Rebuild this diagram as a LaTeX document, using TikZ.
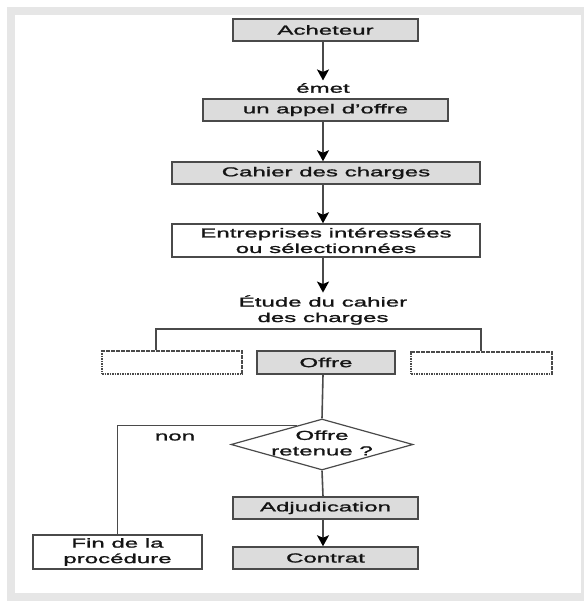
\documentclass[tikz,border=0pt]{standalone}
\usepackage{fontspec}
\setmainfont[FakeStretch=1.85,FakeBold=1.4]{Liberation Sans}
\usetikzlibrary{shapes.geometric,arrows.meta,calc}
\definecolor{boxfill}{HTML}{DCDCDC}
\definecolor{edge}{HTML}{4A4A4A}
\definecolor{framegray}{HTML}{E6E6E6}
\begin{document}
\begin{tikzpicture}[x=1pt,y=-1pt,
  every node/.style={font=\fontsize{13}{15.5}\selectfont, text=black!92},
  greybox/.style={draw=edge, line width=1.5pt, fill=boxfill, inner sep=0pt, align=center},
  whitebox/.style={draw=edge, line width=1.5pt, fill=white, inner sep=0pt, align=center},
  emptybox/.style={draw=edge, line width=1.3pt, dash pattern=on 1.6pt off 0.9pt, fill=white, inner sep=0pt},
  caption/.style={inner sep=2.5pt, align=center},
  link/.style={draw=edge, line width=1.6pt},
  arrowlink/.style={link, -{Stealth[length=11pt,width=12pt,inset=2.5pt,color=black]}}
]
% page with its grey frame
\useasboundingbox (0,0) rectangle (584,601);
\fill[white] (0,0) rectangle (584,601);
\fill[framegray] (7,7) rectangle (584,601);
\fill[white] (15,15) rectangle (581,593);

% main vertical axis
\coordinate (spine) at (323,0);

% upper chain
\node[greybox, minimum width=185, minimum height=22] (ach) at (325.5,30) {Acheteur};
\node[caption] (emet) at (323,88) {émet};
\node[greybox, minimum width=245, minimum height=22] (appel) at (325.5,110) {un appel d’offre};
\node[greybox, minimum width=308, minimum height=22] (cahier) at (326,173) {Cahier des charges};
\node[whitebox, minimum width=308, minimum height=33] (ent) at (326,240.5) {Entreprises intéressées\\ou sélectionnées};
\node[caption] (etude) at (323,310) {Étude du cahier\\des charges};

\draw[arrowlink] (ach.south -| spine) -- (emet.north -| spine);
\draw[arrowlink] (appel.south -| spine) -- (cahier.north -| spine);
\draw[arrowlink] (cahier.south -| spine) -- (ent.north -| spine);
\draw[arrowlink] (ent.south -| spine) -- (etude.north -| spine);

% the three answers
\node[emptybox, minimum width=140, minimum height=23] (lbox) at (172,362.5) {};
\node[greybox, minimum width=138, minimum height=23] (offre) at (326,362.5) {Offre};
\node[emptybox, minimum width=141, minimum height=22] (rbox) at (481.5,363) {};

\coordinate (bl) at (156,329);
\coordinate (br) at (481,329);
\draw[link] (lbox.north -| bl) -- (bl) -- (br) -- (rbox.north -| br);

% decision
\node[draw=edge, line width=1.2pt, fill=white, diamond, aspect=3.57, inner sep=0pt,
      minimum width=182, minimum height=51] (dia) at (322,444.5) {};
\node[align=center, inner sep=0pt] (diatext) at (322,443) {Offre\\retenue ?};
\draw[link] (offre.south -| spine) -- (dia.north);

% outcome
\node[greybox, minimum width=185, minimum height=22] (adj) at (325.5,508) {Adjudication};
\node[greybox, minimum width=185, minimum height=22] (contrat) at (325.5,558) {Contrat};
\node[whitebox, minimum width=169, minimum height=34] (fin) at (117.5,552) {Fin de la\\procédure};

\draw[link] (dia.south) -- (adj.north -| spine);
\draw[arrowlink] (adj.south -| spine) -- (contrat.north -| spine);
\draw[link] ($(dia.north)!0.27!(dia.west)$) -| (fin.north);
\node (non) at (175,437) {non};
\end{tikzpicture}
\end{document}
